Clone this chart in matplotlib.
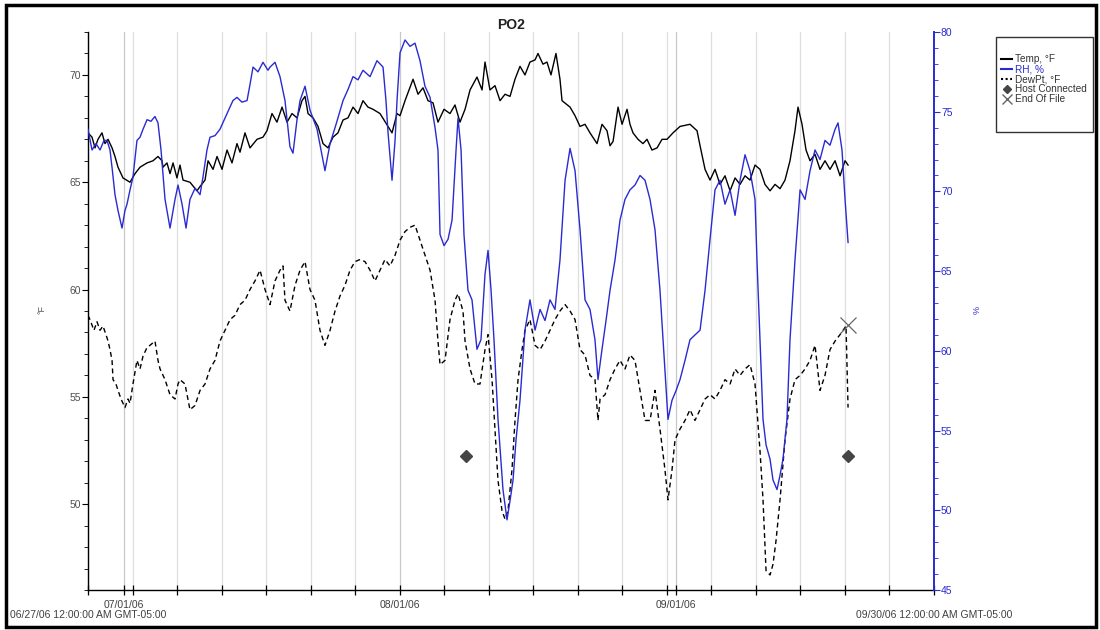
import numpy as np
import matplotlib
matplotlib.use("Agg")
import matplotlib.pyplot as plt
from matplotlib.lines import Line2D
from matplotlib.patches import Rectangle
from matplotlib.ticker import MultipleLocator

plt.rcParams['font.family'] = ['Liberation Sans', 'DejaVu Sans']

# time in days after 06/27/06 00:00
temp_days = [0.00, 0.45, 0.79, 1.12, 1.57, 1.91, 2.25, 2.70, 3.03, 3.37, 3.93, 4.72, 5.28, 5.84, 6.63, 7.30,
             7.86, 8.31, 8.42, 8.87, 9.21, 9.55, 9.99, 10.33, 10.67, 11.45, 12.24, 12.58, 13.14, 13.48, 14.04,
             14.49, 15.05, 15.61, 16.17, 16.73, 17.07, 17.63, 18.19, 18.98, 19.65, 20.10, 20.66, 21.22, 21.79,
             22.35, 22.91, 23.47, 24.03, 24.37, 24.71, 25.27, 25.83, 26.39, 26.95, 27.51, 28.07, 28.64, 29.20,
             29.76, 30.32, 30.88, 31.44, 32.00, 32.79, 33.69, 34.14, 34.70, 35.04, 35.60, 36.50, 37.06, 37.62,
             38.18, 38.74, 39.30, 39.98, 40.65, 41.21, 41.77, 42.34, 42.90, 43.68, 44.25, 44.58, 45.14, 45.70,
             46.27, 46.83, 47.39, 47.95, 48.51, 49.07, 49.63, 50.20, 50.53, 51.09, 51.54, 51.99, 52.55, 53.00,
             53.23, 54.13, 54.69, 55.25, 55.81, 56.37, 57.16, 57.72, 58.28, 58.62, 58.96, 59.52, 59.97, 60.53,
             60.86, 61.20, 61.76, 62.32, 62.77, 63.33, 63.90, 64.46, 65.02, 65.69, 66.48, 67.60, 68.39, 68.73,
             69.29, 69.85, 70.41, 70.97, 71.53, 72.10, 72.66, 73.22, 73.78, 74.34, 74.90, 75.46, 76.02, 76.59,
             77.15, 77.71, 78.27, 78.83, 79.39, 79.73, 80.18, 80.63, 81.08, 81.64, 82.20, 82.76, 83.32, 83.89,
             84.45, 85.01, 85.35]
temp_vals = [67.3, 67.1, 66.6, 67.0, 67.3, 66.8, 67.0, 66.6, 66.2, 65.7, 65.2, 65.0, 65.4, 65.7, 65.9, 66.0,
             66.2, 66.0, 65.7, 65.9, 65.4, 65.9, 65.2, 65.8, 65.1, 65.0, 64.6, 64.8, 65.1, 66.0, 65.6,
             66.2, 65.6, 66.5, 65.9, 66.8, 66.4, 67.3, 66.6, 67.0, 67.1, 67.4, 68.2, 67.8, 68.5,
             67.8, 68.2, 68.0, 68.8, 69.0, 68.2, 68.0, 67.6, 66.8, 66.6, 67.1, 67.3, 67.9, 68.0,
             68.5, 68.2, 68.8, 68.5, 68.4, 68.2, 67.6, 67.3, 68.2, 68.1, 68.8, 69.8, 69.1, 69.4,
             68.8, 68.7, 67.8, 68.4, 68.2, 68.6, 67.8, 68.4, 69.3, 69.9, 69.3, 70.6, 69.3, 69.5,
             68.8, 69.1, 69.0, 69.8, 70.4, 70.0, 70.6, 70.7, 71.0, 70.5, 70.6, 70.0, 71.0, 69.8,
             68.8, 68.5, 68.1, 67.6, 67.7, 67.3, 66.8, 67.7, 67.4, 66.7, 66.9, 68.5, 67.7, 68.4,
             67.7, 67.3, 67.0, 66.8, 67.0, 66.5, 66.6, 67.0, 67.0, 67.3, 67.6, 67.7, 67.4, 66.7,
             65.6, 65.1, 65.6, 64.9, 65.3, 64.6, 65.2, 64.9, 65.3, 65.1, 65.8, 65.6, 64.9, 64.6,
             64.9, 64.7, 65.1, 66.0, 67.4, 68.5, 67.7, 66.5, 66.0, 66.3, 65.6, 66.0, 65.6, 66.0,
             65.3, 66.0, 65.8]

rh_days = [0.00, 0.45, 0.90, 1.35, 1.80, 2.13, 2.47, 2.70, 3.03, 3.37, 3.82, 4.15, 4.38, 4.72, 5.05, 5.50,
           5.84, 6.18, 6.63, 7.07, 7.52, 7.86, 8.20, 8.65, 9.21, 9.77, 10.11, 10.56, 11.01, 11.45, 12.02,
           12.58, 12.91, 13.36, 13.70, 14.26, 14.82, 15.38, 15.95, 16.28, 16.73, 17.29, 17.86, 18.19, 18.53,
           19.09, 19.65, 20.21, 20.44, 21.00, 21.56, 22.12, 22.68, 23.02, 23.47, 23.81, 24.37, 24.93, 25.72,
           26.17, 26.61, 27.18, 27.85, 28.64, 29.20, 29.76, 30.32, 30.88, 31.67, 32.45, 33.13, 33.46, 33.69,
           34.14, 34.48, 34.70, 35.04, 35.60, 36.16, 36.72, 37.28, 37.84, 38.41, 38.97, 39.30, 39.53, 39.98,
           40.43, 40.88, 41.33, 41.55, 41.89, 42.22, 42.67, 43.12, 43.68, 44.13, 44.58, 44.92, 45.26, 45.59,
           46.04, 46.60, 47.05, 47.39, 47.73, 48.06, 48.51, 49.07, 49.63, 50.20, 50.76, 51.32, 51.88, 52.44,
           53.00, 53.57, 54.13, 54.69, 55.25, 55.81, 56.37, 56.93, 57.27, 57.72, 58.17, 58.62, 59.18, 59.74,
           60.30, 60.86, 61.42, 61.99, 62.55, 63.11, 63.67, 64.23, 64.79, 65.13, 65.58, 66.03, 66.48, 67.04,
           67.60, 68.16, 68.73, 69.29, 69.85, 70.41, 70.97, 71.53, 72.10, 72.66, 73.22, 73.78, 74.34, 74.90,
           75.12, 75.46, 75.80, 76.14, 76.59, 76.92, 77.37, 77.71, 78.04, 78.49, 78.83, 79.39, 79.96, 80.52,
           81.08, 81.64, 82.20, 82.76, 83.32, 83.89, 84.22, 84.67, 85.01, 85.35]
rh_vals = [73.9, 72.6, 73.0, 72.6, 73.2, 73.2, 72.6, 71.5, 69.8, 68.8, 67.7, 68.8, 69.2, 70.1, 70.9, 73.2,
           73.4, 73.9, 74.5, 74.4, 74.7, 74.3, 72.6, 69.5, 67.7, 69.5, 70.4, 69.2, 67.7, 69.5, 70.2,
           69.8, 70.9, 72.6, 73.4, 73.5, 73.9, 74.6, 75.3, 75.7, 75.9, 75.6, 75.7, 76.7, 77.8,
           77.5, 78.1, 77.6, 77.8, 78.1, 77.2, 75.7, 72.8, 72.4, 74.5, 75.7, 76.6, 75.1, 73.9,
           72.6, 71.3, 73.0, 74.2, 75.7, 76.4, 77.2, 77.0, 77.6, 77.2, 78.2, 77.8, 75.7, 73.7,
           70.7, 73.2, 75.7, 78.7, 79.5, 79.1, 79.3, 78.2, 76.6, 75.9, 74.0, 72.6, 67.3, 66.6,
           67.0, 68.2, 72.6, 74.6, 72.6, 67.3, 63.8, 63.2, 60.1, 60.7, 64.8, 66.3, 63.8, 60.7,
           55.7, 51.3, 49.4, 50.6, 51.9, 54.4, 56.9, 61.3, 63.2, 61.3, 62.6, 61.9, 63.2, 62.6,
           65.7, 70.7, 72.7, 71.3, 67.6, 63.2, 62.6, 60.7, 58.2, 60.1, 61.9, 63.8, 65.7, 68.2,
           69.5, 70.1, 70.4, 71.0, 70.7, 69.5, 67.6, 63.8, 58.8, 55.7, 56.9, 57.5, 58.2, 59.4,
           60.7, 61.0, 61.3, 63.8, 67.0, 70.1, 70.7, 69.2, 70.1, 68.5, 70.7, 72.3, 71.3, 69.5,
           65.7, 60.7, 55.7, 54.1, 53.2, 51.9, 51.3, 52.2, 53.2, 55.7, 60.7, 65.7, 70.1, 69.5,
           71.3, 72.6, 72.0, 73.2, 72.9, 73.9, 74.3, 72.6, 69.5, 66.8]

dew_days = [0.00, 0.22, 0.67, 1.01, 1.35, 1.68, 2.02, 2.25, 2.47, 2.70, 2.81, 3.14, 3.37, 3.71, 4.15, 4.49,
            4.72, 5.05, 5.50, 5.84, 6.18, 6.63, 6.96, 7.52, 7.86, 8.09, 8.65, 9.21, 9.77, 10.11, 10.33,
            10.89, 11.45, 12.02, 12.58, 13.14, 13.70, 14.26, 14.82, 15.38, 15.95, 16.51, 17.07, 17.63, 18.19,
            18.75, 19.32, 19.88, 20.44, 21.00, 21.56, 21.90, 22.12, 22.68, 23.25, 23.81, 24.37, 24.93, 25.49,
            26.05, 26.61, 27.18, 27.74, 28.30, 28.86, 29.42, 29.98, 30.55, 31.11, 31.67, 32.23, 32.79, 33.35,
            33.91, 34.48, 35.04, 35.60, 36.16, 36.72, 37.28, 37.84, 38.41, 38.97, 39.30, 39.53, 40.09, 40.65,
            41.21, 41.55, 42.11, 42.34, 42.90, 43.46, 44.02, 44.58, 44.92, 45.37, 45.70, 46.04, 46.49, 46.83,
            47.16, 47.61, 47.95, 48.29, 48.74, 49.07, 49.63, 50.20, 50.76, 51.32, 51.88, 52.44, 53.00, 53.57,
            54.13, 54.69, 55.25, 55.81, 56.37, 56.93, 57.27, 57.50, 58.06, 58.62, 59.18, 59.74, 60.30, 60.86,
            61.42, 61.99, 62.55, 63.11, 63.67, 64.23, 64.79, 65.13, 65.58, 65.92, 66.48, 67.04, 67.60, 68.16,
            68.73, 69.29, 69.85, 70.41, 70.97, 71.53, 72.10, 72.66, 73.22, 73.78, 74.34, 74.90, 75.46, 75.80,
            76.14, 76.59, 76.92, 77.26, 77.71, 78.27, 78.83, 79.39, 79.96, 80.52, 81.08, 81.64, 82.20, 82.76,
            83.32, 83.89, 84.45, 84.79, 85.12, 85.35]
dew_vals = [58.8, 58.6, 58.1, 58.5, 58.1, 58.3, 57.9, 57.6, 57.2, 56.7, 55.8, 55.6, 55.3, 54.9, 54.5, 54.9,
            54.7, 55.6, 56.7, 56.3, 56.9, 57.3, 57.4, 57.6, 56.7, 56.3, 55.8, 55.1, 54.9, 55.6, 55.8,
            55.6, 54.4, 54.6, 55.3, 55.6, 56.3, 56.7, 57.6, 58.1, 58.6, 58.8, 59.3, 59.5, 60.0,
            60.4, 60.9, 60.0, 59.3, 60.4, 60.9, 61.1, 59.5, 59.0, 60.2, 60.9, 61.3, 60.0, 59.5,
            58.1, 57.4, 58.1, 59.0, 59.7, 60.2, 60.9, 61.3, 61.4, 61.3, 60.9, 60.4, 60.9, 61.4,
            61.1, 61.6, 62.3, 62.7, 62.9, 63.0, 62.3, 61.6, 60.9, 59.5, 57.6, 56.5, 56.7, 58.6,
            59.5, 59.8, 59.0, 57.6, 56.3, 55.6, 55.6, 57.2, 57.9, 55.8, 53.5, 51.1, 49.7, 49.3,
            49.7, 51.6, 53.9, 55.8, 57.2, 58.1, 58.6, 57.4, 57.2, 57.6, 58.1, 58.6, 59.0, 59.3,
            59.0, 58.6, 57.2, 56.95, 56.0, 55.8, 53.9, 54.9, 55.1, 55.8, 56.3, 56.7, 56.3, 56.95,
            56.7, 55.3, 53.9, 53.9, 55.3, 53.5, 51.6, 50.2, 51.6, 53.0, 53.5, 53.9, 54.4, 53.9,
            54.4, 54.9, 55.1, 54.9, 55.3, 55.8, 55.6, 56.3, 56.0, 56.3, 56.5, 55.6, 52.5, 50.2,
            46.9, 46.7, 47.2, 48.3, 50.2, 53.0, 54.9, 55.8, 56.0, 56.3, 56.7, 57.4, 55.3, 56.0,
            57.2, 57.6, 57.9, 58.1, 58.3, 54.5]

host_days = [42.45, 85.35]
host_vals = [52.24, 52.24]
eof_days = [85.35]
eof_vals = [58.35]

month_ticks = ['2006-07-01', '2006-08-01', '2006-09-01']
month_labels = ['07/01/06', '08/01/06', '09/01/06']
legend_labels = ['Temp, °F', 'RH, %', 'DewPt, °F', 'Host Connected', 'End Of File']

start = np.datetime64('2006-06-27T00:00')
end = np.datetime64('2006-09-30T00:00')


def to_time(days):
    return start + (np.array(days) * 86400).astype('timedelta64[s]')


blue = '#2a2ad2'
fig = plt.figure(figsize=(11, 6.3), dpi=100)
ax = fig.add_axes([88 / 1100, 40 / 630, 846 / 1100, 558 / 630])
ax2 = ax.twinx()

# grid lines: every 5 days plus month starts
months = np.array(month_ticks, dtype='datetime64[m]')
five_day = np.arange(start, end + np.timedelta64(1, 'D'), np.timedelta64(5, 'D')).astype('datetime64[m]')
five_day = np.array([t for t in five_day if t not in months])
for t in five_day:
    ax.axvline(t, color='#dedede', lw=0.9, zorder=0)
for t in months:
    ax.axvline(t, color='#c8c8c8', lw=0.9, zorder=0)

ax.plot(to_time(temp_days), temp_vals, color='black', lw=1.0, zorder=3)
ax.plot(to_time(dew_days), dew_vals, color='black', lw=1.0, dashes=(3.5, 2.5), zorder=3)
ax2.plot(to_time(rh_days), rh_vals, color=blue, lw=1.0, zorder=3)
ax.plot(to_time(host_days), host_vals, 'D', color='#454545', ms=6, zorder=4)
ax.plot(to_time(eof_days), eof_vals, 'x', color='#666666', ms=11, mew=0.9, zorder=4)

ax.set_xlim(start, end)
ax.set_ylim(46, 72)
ax2.set_ylim(45, 80)

ticks = list(five_day) + list(months)
labels = [''] * len(five_day) + month_labels
ax.set_xticks(ticks)
ax.set_xticklabels(labels)
ax.tick_params(axis='x', direction='inout', length=7, width=0.9, labelsize=7.5,
               labelcolor='#404040', pad=4)

ax.yaxis.set_major_locator(MultipleLocator(5))
ax.yaxis.set_minor_locator(MultipleLocator(1))
ax.tick_params(axis='y', which='major', length=4, labelsize=7.5, labelcolor='#505050', pad=1)
ax.tick_params(axis='y', which='minor', length=3)

ax2.yaxis.set_major_locator(MultipleLocator(5))
ax2.yaxis.set_minor_locator(MultipleLocator(1))
ax2.tick_params(axis='y', which='major', length=4, colors=blue, labelsize=7.5, pad=1)
ax2.tick_params(axis='y', which='minor', length=3, colors=blue)

for a in (ax, ax2):
    a.spines['top'].set_visible(False)
ax.spines['right'].set_visible(False)
ax2.spines['left'].set_visible(False)
ax2.spines['bottom'].set_visible(False)
ax2.spines['right'].set_color(blue)
ax2.spines['right'].set_linewidth(1.4)
ax.spines['left'].set_linewidth(1.0)
ax.spines['bottom'].set_linewidth(1.0)

ax.set_title('PO2', fontsize=10, fontweight='bold', color='#222222', pad=1.5)
fig.text(42 / 1100, 1 - 310 / 630, '°F', rotation=90, fontsize=6.5, color='#555555',
         ha='center', va='center')
fig.text(977 / 1100, 1 - 310 / 630, '%', rotation=90, fontsize=6.5, color=blue,
         ha='center', va='center')

fig.text(88 / 1100, 1 - 615 / 630, '06/27/06 12:00:00 AM GMT-05:00', fontsize=7.5,
         color='#404040', ha='center', va='center')
fig.text(934 / 1100, 1 - 615 / 630, '09/30/06 12:00:00 AM GMT-05:00', fontsize=7.5,
         color='#404040', ha='center', va='center')

# legend box
fig.patches.append(Rectangle((996 / 1100, 1 - 132 / 630), 97 / 1100, 95 / 630, transform=fig.transFigure,
                             facecolor='white', ec='#333333', lw=1.0, zorder=5))
handles = [
    Line2D([], [], color='black', lw=1.5),
    Line2D([], [], color=blue, lw=1.5),
    Line2D([], [], color='black', lw=1.5, linestyle=(0, (1, 1.2))),
    Line2D([], [], color='#454545', marker='D', ms=4, lw=0),
    Line2D([], [], color='#666666', marker='x', ms=7, lw=0),
]
leg = fig.legend(handles, legend_labels, loc='upper left', bbox_to_anchor=(1001 / 1100, 1 - 54 / 630),
                 fontsize=7.2, handlelength=1.1, handletextpad=0.3, labelspacing=0.0, borderpad=0,
                 borderaxespad=0, frameon=False)
leg.set_zorder(6)
for txt in leg.get_texts():
    txt.set_color('#333333')
leg.get_texts()[1].set_color(blue)

fig.patches.append(Rectangle((6 / 1100, 3 / 630), 1090 / 1100, 622 / 630, transform=fig.transFigure,
                             fill=False, lw=2.5, ec='black'))

fig.savefig('out.png', dpi=100)
